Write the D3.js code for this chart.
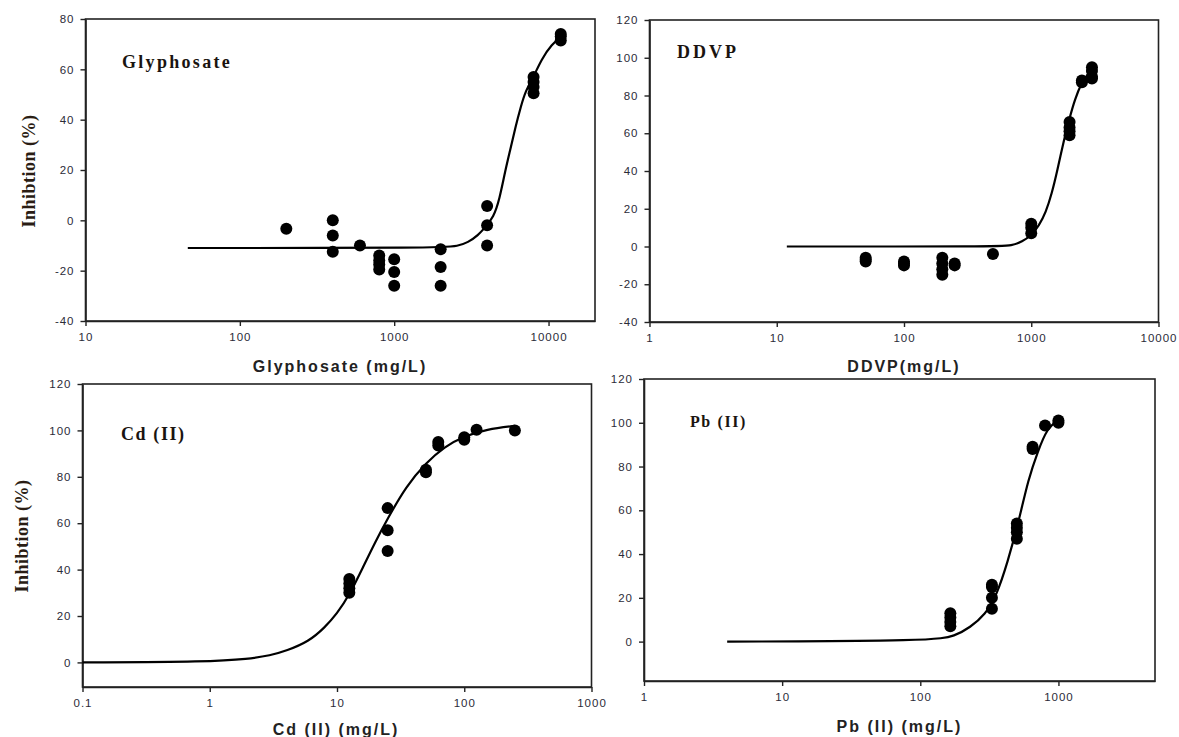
<!DOCTYPE html>
<html>
<head>
<meta charset="utf-8">
<script src="https://cdn.jsdelivr.net/npm/d3@7"></script>
<style>
  body{margin:0;background:#fff;}
  .tick text{font-family:"Liberation Sans",Arial,sans-serif;font-size:11.5px;fill:#2b2b38;letter-spacing:1px;}
</style>
</head>
<body>
<svg id="chart" width="1179" height="737"></svg>
<script>
var glyConc  = [200, 400,400,400, 600, 800,800,800,800, 1000,1000,1000, 2000,2000,2000, 4000,4000,4000, 8000,8000,8000,8000, 12000,12000,12000];
var glyInhib = [-3.3, 0,-6,-12.5, -10, -14,-16,-17.5,-19.5, -15.5,-20.5,-26, -11.5,-18.5,-26, 5.7,-2,-10, 57,55,53,50.5, 74,73,71.5];
var glyFitX  = [46, 2000, 2600, 3000, 3500, 3900, 4400, 4800, 5250, 5700, 6100, 6600, 7100, 8000, 9000, 10500, 12000];
var glyFitY  = [-11, -11, -10.2, -8.8, -6, -2.6, 1.3, 8, 20, 29, 37, 45, 51.5, 57, 64, 70, 72.8];

// ---- DDVP
var ddvpConc  = [50,50,50, 100,100,100, 200,200,200,200, 250,250, 500, 1000,1000,1000, 2000,2000,2000,2000, 2500,2500, 3000,3000,3000,3000];
var ddvpInhib = [-6,-7,-8, -8,-9,-10, -6,-9,-12,-15, -9,-10, -4, 12,10,7, 66,63,61,59, 87,88, 95,93,90,89];
var ddvpFitX  = [12, 550, 700, 850, 1000, 1150, 1300, 1450, 1600, 1800, 2000, 2200, 2500, 2750, 3000];
var ddvpFitY  = [0, 0, 0.5, 2.5, 6, 11, 18, 28, 40, 56, 68, 78, 87, 91, 93];

// ---- Cd (II)
var cdConc  = [12.5,12.5,12.5,12.5, 25,25,25, 50,50, 62.5,62.5, 100,100, 125, 250];
var cdInhib = [36,34,32,30, 66.5,57,48, 83,82, 95,93.5, 97,96, 100.3, 100];
var cdFitX  = [0.1, 1, 2, 3, 4, 6, 8, 10, 12.5, 16, 20, 25, 35, 50, 70, 100, 150, 250];
var cdFitY  = [0, 0.3, 1.5, 3, 5, 9, 15, 21, 29, 41, 52, 62, 76, 86, 93, 97.5, 100.5, 102];

// ---- Pb (II)
var pbConc  = [165,165,165,165, 330,330,330,330, 500,500,500,500, 650,650, 800, 1000,1000];
var pbInhib = [13,11,9,7, 26,25,20,15, 54,52,50,47, 88,89, 98.7, 100,101];
var pbFitX  = [4, 126, 178, 229, 296, 355, 428, 520, 604, 710, 830, 1000];
var pbFitY  = [0, 0.3, 2.6, 6.4, 12.5, 20.8, 36, 55.8, 74, 87, 97.6, 101.4];

// ---- axis ticks
var glyXTicks = [10,100,1000,10000];
var ddvpXTicks = [1,10,100,1000,10000];
var cdXTicks = [0.1,1,10,100,1000];
var pbXTicks = [1,10,100,1000];
var glyYTicks = [-40,-20,0,20,40,60,80];
var ddvpYTicks = [-40,-20,0,20,40,60,80,100,120];
var metalYTicks = [0,20,40,60,80,100,120];

var titles = ['Glyphosate','DDVP','Cd (II)','Pb (II)'];
var xLabels = ['Glyphosate (mg/L)','DDVP(mg/L)','Cd (II) (mg/L)','Pb (II) (mg/L)'];
var yLabel = 'Inhibtion (%)';

function zip(a,b){ return a.map(function(v,i){ return [v,b[i]]; }); }

var panels = [
  {left:85.5,right:595,top:19,bottom:321, xDomain:[10,20000], yDomain:[-40,80],
   xTicks:glyXTicks, yTicks:glyYTicks, pts:zip(glyConc,glyInhib), fit:zip(glyFitX,glyFitY),
   title:titles[0], tx:122, ty:68, tSize:18, tSpace:2.3,
   xLabel:xLabels[0], lx:340, ly:372, yl:{x:29,y:171}},
  {left:649.5,right:1158.5,top:20,bottom:322, xDomain:[1,10000], yDomain:[-40,120],
   xTicks:ddvpXTicks, yTicks:ddvpYTicks, pts:zip(ddvpConc,ddvpInhib), fit:zip(ddvpFitX,ddvpFitY),
   title:titles[1], tx:677, ty:58, tSize:18, tSpace:3,
   xLabel:xLabels[1], lx:904, ly:372, yl:null},
  {left:82.5,right:591.5,top:384,bottom:687, xDomain:[0.1,1000], yDomain:[-10.6,120],
   xTicks:cdXTicks, yTicks:metalYTicks, pts:zip(cdConc,cdInhib), fit:zip(cdFitX,cdFitY),
   title:titles[2], tx:121, ty:440, tSize:18, tSpace:1.6,
   xLabel:xLabels[2], lx:336, ly:735, yl:{x:22,y:536}},
  {left:644,right:1155,top:379,bottom:681, xDomain:[1,5000], yDomain:[-18,120],
   xTicks:pbXTicks, yTicks:metalYTicks, pts:zip(pbConc,pbInhib), fit:zip(pbFitX,pbFitY),
   title:titles[3], tx:690, ty:427, tSize:16, tSpace:1.6,
   xLabel:xLabels[3], lx:899.5, ly:732, yl:null}
];

var svg = d3.select('#chart');

function drawPanel(p){
  var x = d3.scaleLog().domain(p.xDomain).range([p.left,p.right]);
  var y = d3.scaleLinear().domain(p.yDomain).range([p.bottom,p.top]);
  var g = svg.append('g');

  var xAxis = d3.axisBottom(x).tickValues(p.xTicks)
    .tickFormat(function(d){ return String(d); })
    .tickSize(5).tickSizeOuter(0).tickPadding(7);
  var yAxis = d3.axisLeft(y).tickValues(p.yTicks)
    .tickFormat(function(d){ return String(d); })
    .tickSize(5).tickSizeOuter(0).tickPadding(6);

  g.append('g').attr('transform','translate(0,'+p.bottom+')').call(xAxis);
  g.append('g').attr('transform','translate('+p.left+',0)').call(yAxis);
  g.selectAll('.domain').attr('stroke','#222').attr('stroke-width',1.6);
  g.selectAll('.tick line').attr('stroke','#222').attr('stroke-width',1.4);

  // box frame
  g.append('rect')
    .attr('x',p.left).attr('y',p.top)
    .attr('width',p.right-p.left).attr('height',p.bottom-p.top)
    .attr('fill','none').attr('stroke','#222').attr('stroke-width',1.6);

  // fitted curve (smoothed through the read-off points)
  var line = d3.line()
    .x(function(d){ return x(d[0]); })
    .y(function(d){ return y(d[1]); })
    .curve(d3.curveBasis);
  g.append('path').datum(p.fit)
    .attr('d',line).attr('fill','none')
    .attr('stroke','#000').attr('stroke-width',2.2);

  // data points
  g.selectAll('circle.pt').data(p.pts).enter().append('circle')
    .attr('class','pt')
    .attr('cx',function(d){ return x(d[0]); })
    .attr('cy',function(d){ return y(d[1]); })
    .attr('r',6).attr('fill','#000');

  // panel title
  g.append('text').text(p.title)
    .attr('x',p.tx).attr('y',p.ty)
    .attr('font-family','"Liberation Serif","Times New Roman",serif')
    .attr('font-weight','bold').attr('font-size',p.tSize)
    .attr('letter-spacing',p.tSpace).attr('fill','#1a1410');

  // x axis label
  g.append('text').text(p.xLabel)
    .attr('x',p.lx).attr('y',p.ly).attr('text-anchor','middle')
    .attr('font-family','"Liberation Sans",Arial,sans-serif')
    .attr('font-weight','bold').attr('font-size',16)
    .attr('letter-spacing',2).attr('fill','#222');

  // y axis label
  if(p.yl){
    g.append('text').text(yLabel)
      .attr('transform','translate('+p.yl.x+','+p.yl.y+') rotate(-90)')
      .attr('text-anchor','middle').attr('dy','0.35em')
      .attr('font-family','"Liberation Serif","Times New Roman",serif')
      .attr('font-weight','bold').attr('font-size',18)
      .attr('letter-spacing',0.5).attr('fill','#2a1d14');
  }
}

panels.forEach(drawPanel);
</script>
</body>
</html>
